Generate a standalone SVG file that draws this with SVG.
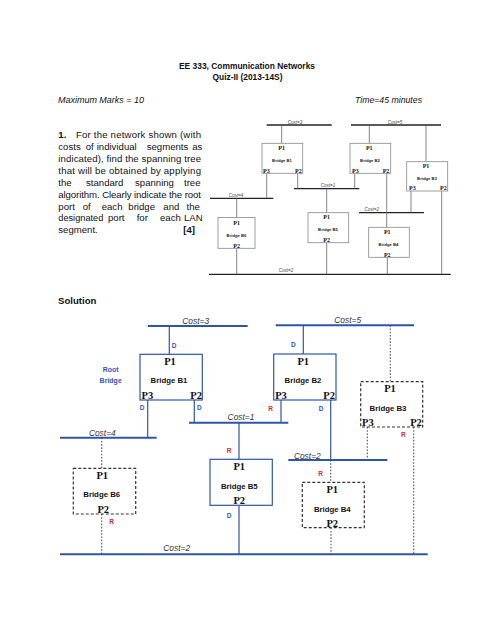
<svg xmlns="http://www.w3.org/2000/svg" width="495" height="640" viewBox="0 0 495 640">
<style>
.t{font-family:"Liberation Sans",Arial,sans-serif;fill:#111;font-size:9.6px}
.b{font-weight:bold}
.i{font-style:italic}
.tb{stroke:#222;stroke-width:1.3}
.tv{stroke:#666;stroke-width:0.8;fill:none}
.tbox{fill:#fff;stroke:#888;stroke-width:0.8}
.tp{font-family:"Liberation Serif","Times New Roman",serif;font-weight:bold;font-size:6px;fill:#111}
.tn{font-family:"Liberation Sans",Arial,sans-serif;font-weight:bold;font-size:4.2px;fill:#222}
.tc{font-family:"Liberation Sans",Arial,sans-serif;font-style:italic;font-size:4.5px;fill:#444}
.sb{stroke:#2f55a8;stroke-width:2}
.sv{stroke:#2f55a8;stroke-width:1.2;fill:none}
.sbox{fill:#fff;stroke:#2f55a8;stroke-width:1.2}
.dbox{fill:#fff;stroke:#333;stroke-width:1.2;stroke-dasharray:3,2}
.dv{stroke:#555;stroke-width:1.1;stroke-dasharray:1.6,1.6;fill:none}
.sp{font-family:"Liberation Serif","Times New Roman",serif;font-weight:bold;font-size:10.5px;fill:#111}
.sn{font-family:"Liberation Sans",Arial,sans-serif;font-weight:bold;font-size:7.8px;fill:#111}
.sc{font-family:"Liberation Sans",Arial,sans-serif;font-style:italic;font-size:8.4px;fill:#333}
.D{font-family:"Liberation Sans",Arial,sans-serif;font-weight:bold;font-size:6.5px;fill:#2f55c0}
.R{font-family:"Liberation Sans",Arial,sans-serif;font-weight:bold;font-size:6.5px;fill:#e0262b}
.rb{font-family:"Liberation Sans",Arial,sans-serif;font-weight:bold;font-size:7px;fill:#2f55c0}
</style>
<rect width="495" height="640" fill="#fff"/>

<!-- Header -->
<g id="header">
<text class="t b" x="247" y="68.5" text-anchor="middle" textLength="136" lengthAdjust="spacingAndGlyphs">EE 333, Communication Networks</text>
<text class="t b" x="247.5" y="80" text-anchor="middle" textLength="70" lengthAdjust="spacingAndGlyphs">Quiz-II (2013-14S)</text>
<text class="t i" x="58" y="103" textLength="86" lengthAdjust="spacingAndGlyphs">Maximum Marks = 10</text>
<text class="t i" x="355" y="103" textLength="67" lengthAdjust="spacingAndGlyphs">Time=45 minutes</text>
</g>

<!-- Question text -->
<g id="question">
<text class="t b" x="58.3" y="138">1.</text>
<text class="t" x="76" y="138" textLength="125" lengthAdjust="spacing">For the network shown (with</text>
<text class="t" y="150"><tspan x="58.3">costs</tspan><tspan x="85.7">of</tspan><tspan x="96.7">individual</tspan><tspan x="146.7">segments</tspan><tspan x="192.2">as</tspan></text>
<text class="t" x="58.3" y="162" textLength="142.7" lengthAdjust="spacing">indicated), find the spanning tree</text>
<text class="t" x="58.3" y="174" textLength="142.7" lengthAdjust="spacing">that will be obtained by applying</text>
<text class="t" y="186"><tspan x="58.3">the</tspan><tspan x="86">standard</tspan><tspan x="135">spanning</tspan><tspan x="184">tree</tspan></text>
<text class="t" x="58.3" y="197.5" textLength="142.7" lengthAdjust="spacing">algorithm. Clearly indicate the root</text>
<text class="t" y="209.5"><tspan x="58.3">port</tspan><tspan x="82.7">of</tspan><tspan x="101.7">each</tspan><tspan x="128.3">bridge</tspan><tspan x="163.3">and</tspan><tspan x="186.5">the</tspan></text>
<text class="t" x="58.3" y="221" textLength="45" lengthAdjust="spacingAndGlyphs">designated</text>
<text class="t" y="221"><tspan x="108">port</tspan><tspan x="136.7">for</tspan><tspan x="160">each</tspan><tspan x="184">LAN</tspan></text>
<text class="t" x="58.3" y="233">segment.</text>
<text class="t b" x="183.3" y="233">[4]</text>
</g>

<!-- Top network diagram -->
<g id="top-connectors">
<line class="tb" x1="266.7" y1="125" x2="331.7" y2="125"/>
<line class="tb" x1="351" y1="125" x2="441" y2="125"/>
<line class="tb" x1="294" y1="188.7" x2="359.3" y2="188.7"/>
<line class="tb" x1="210" y1="198.3" x2="273.3" y2="198.3"/>
<line class="tb" x1="359" y1="212.7" x2="424" y2="212.7"/>
<line class="tb" x1="209" y1="274.3" x2="450.7" y2="274.3"/>
<line class="tv" x1="281.7" y1="125" x2="281.7" y2="143.3"/>
<line class="tv" x1="266.7" y1="173.3" x2="266.7" y2="198.3"/>
<line class="tv" x1="297.7" y1="173.3" x2="297.7" y2="188.7"/>
<line class="tv" x1="369.3" y1="125" x2="369.3" y2="143.3"/>
<line class="tv" x1="354.7" y1="173.3" x2="354.7" y2="188.7"/>
<line class="tv" x1="386.7" y1="173.3" x2="386.7" y2="227.3"/>
<line class="tv" x1="426" y1="125" x2="426" y2="161.7"/>
<line class="tv" x1="411" y1="191" x2="411" y2="212.7"/>
<line class="tv" x1="441.7" y1="191" x2="441.7" y2="274.3"/>
<line class="tv" x1="326.7" y1="188.7" x2="326.7" y2="212.7"/>
<line class="tv" x1="326.7" y1="242.7" x2="326.7" y2="274.3"/>
<line class="tv" x1="387.3" y1="257.3" x2="387.3" y2="274.3"/>
<line class="tv" x1="236.7" y1="198.3" x2="236.7" y2="217.5"/>
<line class="tv" x1="236.7" y1="248.3" x2="236.7" y2="274.3"/>
<text class="tc" x="295" y="123.5" text-anchor="middle">Cost=3</text>
<text class="tc" x="395" y="123.5" text-anchor="middle">Cost=5</text>
<text class="tc" x="328" y="186.5" text-anchor="middle">Cost=1</text>
<text class="tc" x="236" y="196.5" text-anchor="middle">Cost=4</text>
<text class="tc" x="371.7" y="211" text-anchor="middle">Cost=2</text>
<text class="tc" x="286" y="271.5" text-anchor="middle">Cost=2</text>
</g>
<g id="top-B1">
<rect class="tbox" x="262" y="143.3" width="40.7" height="30"/>
<text class="tp" x="281.7" y="150" text-anchor="middle">P1</text>
<text class="tn" x="282" y="161.5" text-anchor="middle">Bridge B1</text>
<text class="tp" x="263" y="172.5">P3</text>
<text class="tp" x="301.7" y="172.5" text-anchor="end">P2</text>
</g>
<g id="top-B2">
<rect class="tbox" x="350" y="143.3" width="40.7" height="30"/>
<text class="tp" x="369.3" y="150" text-anchor="middle">P1</text>
<text class="tn" x="370" y="161.5" text-anchor="middle">Bridge B2</text>
<text class="tp" x="352" y="172.5">P3</text>
<text class="tp" x="389.3" y="172.5" text-anchor="end">P2</text>
</g>
<g id="top-B3">
<rect class="tbox" x="406.7" y="161.7" width="41" height="29.3"/>
<text class="tp" x="426" y="167.5" text-anchor="middle">P1</text>
<text class="tn" x="427" y="179.5" text-anchor="middle">Bridge B3</text>
<text class="tp" x="409" y="190">P3</text>
<text class="tp" x="446.7" y="190" text-anchor="end">P2</text>
</g>
<g id="top-B5">
<rect class="tbox" x="308" y="212.7" width="40.7" height="30"/>
<text class="tp" x="326.7" y="219" text-anchor="middle">P1</text>
<text class="tn" x="328" y="230.5" text-anchor="middle">Bridge B5</text>
<text class="tp" x="326.7" y="242" text-anchor="middle">P2</text>
</g>
<g id="top-B4">
<rect class="tbox" x="368.7" y="227.3" width="40.6" height="30"/>
<text class="tp" x="387.3" y="234" text-anchor="middle">P1</text>
<text class="tn" x="388.5" y="245.8" text-anchor="middle">Bridge B4</text>
<text class="tp" x="387.3" y="256.5" text-anchor="middle">P2</text>
</g>
<g id="top-B6">
<rect class="tbox" x="218" y="217.5" width="37" height="30.8"/>
<text class="tp" x="236.7" y="225" text-anchor="middle">P1</text>
<text class="tn" x="236.5" y="236.8" text-anchor="middle">Bridge B6</text>
<text class="tp" x="236.7" y="247.5" text-anchor="middle">P2</text>
</g>

<text class="t b" x="58" y="303.5">Solution</text>

<!-- Solution diagram -->
<g id="connectors">
<line class="sb" x1="147.7" y1="326" x2="247.7" y2="326"/>
<line class="sb" x1="275.7" y1="325.3" x2="414" y2="325.3"/>
<line class="sb" x1="189" y1="422.7" x2="288.3" y2="422.7"/>
<line class="sb" x1="60" y1="437.7" x2="156.7" y2="437.7"/>
<line class="sb" x1="288.3" y1="460" x2="387.3" y2="460"/>
<line class="sb" x1="60" y1="554.3" x2="427.7" y2="554.3"/>
<line class="sv" x1="169.3" y1="326" x2="169.3" y2="354.3"/>
<line class="sv" x1="147.7" y1="400" x2="147.7" y2="437.7"/>
<line class="sv" x1="194.3" y1="400" x2="194.3" y2="422.7"/>
<line class="sv" x1="303.3" y1="325.3" x2="303.3" y2="354"/>
<line class="sv" x1="281" y1="400" x2="281" y2="422.7"/>
<line class="sv" x1="330.7" y1="400" x2="330.7" y2="460"/>
<line class="sv" x1="239" y1="422.7" x2="239" y2="459.3"/>
<line class="sv" x1="239" y1="505.3" x2="239" y2="554.3"/>
<line class="dv" x1="390.3" y1="325.3" x2="390.3" y2="381.7"/>
<line class="dv" x1="367.3" y1="427" x2="367.3" y2="460"/>
<line class="dv" x1="413.7" y1="427" x2="413.7" y2="554.3"/>
<line class="dv" x1="330.7" y1="460" x2="330.7" y2="482.3"/>
<line class="dv" x1="331" y1="527.7" x2="331" y2="554.3"/>
<line class="dv" x1="101.7" y1="437.7" x2="101.7" y2="468.3"/>
<line class="dv" x1="101.7" y1="514" x2="101.7" y2="554.3"/>
<text class="sc" x="195.7" y="323.5" text-anchor="middle">Cost=3</text>
<text class="sc" x="347.7" y="323" text-anchor="middle">Cost=5</text>
<text class="sc" x="241" y="420" text-anchor="middle">Cost=1</text>
<text class="sc" x="102.3" y="435.5" text-anchor="middle">Cost=4</text>
<text class="sc" x="307.3" y="458.5" text-anchor="middle">Cost=2</text>
<text class="sc" x="176.7" y="551" text-anchor="middle">Cost=2</text>
<text class="D" x="174" y="348" text-anchor="middle">D</text>
<text class="D" x="142" y="410" text-anchor="middle">D</text>
<text class="D" x="199.3" y="410" text-anchor="middle">D</text>
<text class="D" x="293.3" y="347.3" text-anchor="middle">D</text>
<text class="R" x="270.7" y="410.6" text-anchor="middle">R</text>
<text class="D" x="321" y="410.6" text-anchor="middle">D</text>
<text class="R" x="403.3" y="437.3" text-anchor="middle">R</text>
<text class="R" x="229" y="453" text-anchor="middle">R</text>
<text class="R" x="320.7" y="475.6" text-anchor="middle">R</text>
<text class="D" x="229" y="517.6" text-anchor="middle">D</text>
<text class="R" x="111.7" y="524" text-anchor="middle">R</text>
</g>
<g id="root-label">
<text class="rb" x="110.7" y="371.5" text-anchor="middle">Root</text>
<text class="rb" x="110.7" y="383.2" text-anchor="middle">Bridge</text>
</g>
<g id="B1">
<rect class="sbox" x="140" y="354.3" width="62.3" height="45.7"/>
<text class="sp" x="170" y="364.8" text-anchor="middle">P1</text>
<text class="sn" x="169" y="383.2" text-anchor="middle">Bridge B1</text>
<text class="sp" x="141.5" y="399">P3</text>
<text class="sp" x="202" y="399" text-anchor="end">P2</text>
</g>
<g id="B2">
<rect class="sbox" x="273.7" y="354" width="62.3" height="46"/>
<text class="sp" x="303.3" y="364.5" text-anchor="middle">P1</text>
<text class="sn" x="303" y="383" text-anchor="middle">Bridge B2</text>
<text class="sp" x="275.2" y="399">P3</text>
<text class="sp" x="335" y="399" text-anchor="end">P2</text>
</g>
<g id="B3">
<rect class="dbox" x="360.7" y="381.7" width="62" height="45.3"/>
<text class="sp" x="390" y="392" text-anchor="middle">P1</text>
<text class="sn" x="388" y="410.7" text-anchor="middle">Bridge B3</text>
<text class="sp" x="362" y="426">P3</text>
<text class="sp" x="421.8" y="426" text-anchor="end">P2</text>
</g>
<g id="B5">
<rect class="sbox" x="210" y="459.3" width="62.3" height="46"/>
<text class="sp" x="239.3" y="470.2" text-anchor="middle">P1</text>
<text class="sn" x="239.3" y="488.7" text-anchor="middle">Bridge B5</text>
<text class="sp" x="239.3" y="503.5" text-anchor="middle">P2</text>
</g>
<g id="B4">
<rect class="dbox" x="302.3" y="482.3" width="62" height="45.4"/>
<text class="sp" x="332.3" y="492.5" text-anchor="middle">P1</text>
<text class="sn" x="332.3" y="511.7" text-anchor="middle">Bridge B4</text>
<text class="sp" x="332.3" y="526.8" text-anchor="middle">P2</text>
</g>
<g id="B6">
<rect class="dbox" x="73.3" y="468.3" width="62.4" height="45.7"/>
<text class="sp" x="102.3" y="478.5" text-anchor="middle">P1</text>
<text class="sn" x="101.7" y="497" text-anchor="middle">Bridge B6</text>
<text class="sp" x="103.3" y="512.8" text-anchor="middle">P2</text>
</g>
</svg>
